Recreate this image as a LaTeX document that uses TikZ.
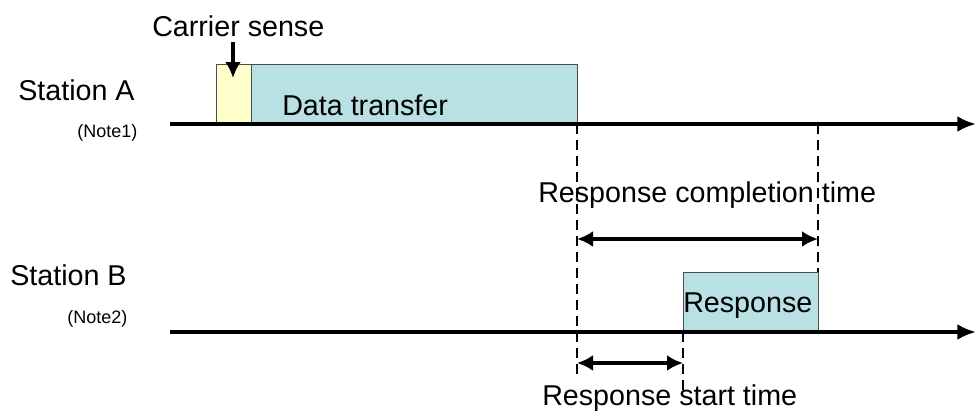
\documentclass[tikz,border=0pt]{standalone}
\usepackage{fontspec}
\setmainfont{Liberation Sans}
\usetikzlibrary{arrows.meta,positioning}
\definecolor{csyellow}{RGB}{255,255,204}
\definecolor{pkteal}{RGB}{185,224,227}

\begin{document}
\begin{tikzpicture}[x=0.75pt,y=-0.75pt,
		lbl/.style={font=\fontsize{21.5}{24}\selectfont,inner sep=0pt,anchor=base west},
		note/.style={font=\fontsize{13.5}{16}\selectfont,inner sep=0pt,anchor=base west},
		pkt/.style={draw=black!70,line width=0.6pt},
		axis/.style={line width=2.8pt,-{Latex[length=14pt,width=12pt]}},
		span/.style={line width=2.5pt,{Latex[length=12pt,width=12pt]}-{Latex[length=12pt,width=12pt]}},
		guide/.style={line width=1.5pt,dash pattern=on 7.5pt off 4.5pt}]
		\useasboundingbox (0,0) rectangle (976,411);
		% frames on the two time lines
		\filldraw[pkt,fill=csyellow] (216,64) rectangle (251,124);
		\filldraw[pkt,fill=pkteal] (251,64) rectangle (577,124);
		\filldraw[pkt,fill=pkteal] (683,272) rectangle (818,332);
		% time lines
		\coordinate (a0) at (170,124); \coordinate (a1) at (976,124);
		\coordinate (b0) at (170,332); \coordinate (b1) at (976,332);
		\draw[axis] (a0) -- (a1);
		\draw[axis] (b0) -- (b1);
		% guides
		\coordinate (endA) at (577,124); \coordinate (endAlow) at (577,378);
		\coordinate (endR) at (818,124); \coordinate (endRlow) at (818,272);
		\coordinate (startR) at (683,332); \coordinate (startRlow) at (683,396);
		\draw[guide] (endA) -- (endAlow);
		\draw[guide] (endR) -- (endRlow);
		\draw[guide] (startR) -- (startRlow);
		\coordinate (c0) at (577,239); \coordinate (c1) at (818,239);
		\coordinate (s0) at (577,363); \coordinate (s1) at (683,363);
		\draw[span] (c0) -- (c1);
		\draw[span] (s0) -- (s1);
		% labels
		\node[lbl] (stA) at (18,100) {Station A};
		\node[note] (n1) at (77,137) {(Note1)};
		\node[lbl] (stB) at (10,285) {Station B};
		\node[note] (n2) at (67,323) {(Note2)};
		\node[lbl] (cs) at (152,36) {Carrier sense};
		\node[lbl] (dt) at (282,115) {Data transfer};
		\node[lbl] (rs) at (683,312) {Response};
		\node[lbl] (rct) at (538,202) {Response completion time};
		\node[lbl] (rst) at (542,405) {Response start time};
		\coordinate (csdown) at (233,78);
		\draw[line width=3.2pt,-{Latex[length=12pt,width=12pt]}] ([yshift=-4pt]cs.south -| csdown) -- (csdown);
\end{tikzpicture}
\end{document}
